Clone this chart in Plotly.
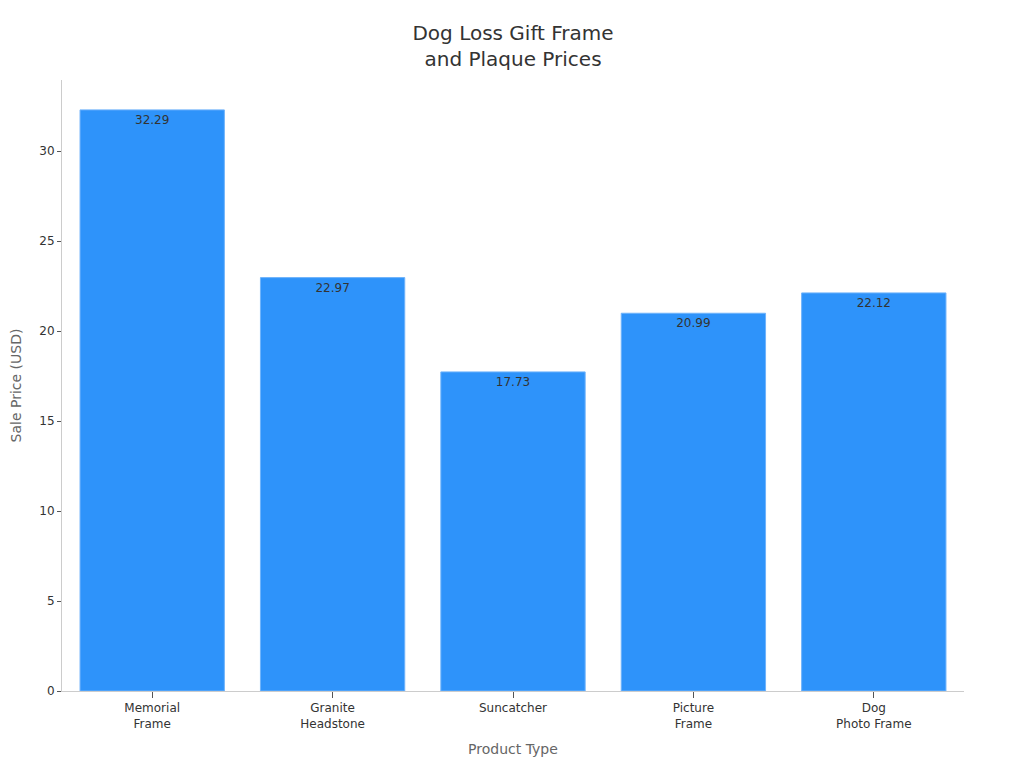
import plotly.graph_objects as go

# Dữ liệu
categories = ["Memorial<br>Frame", "Granite<br>Headstone", "Suncatcher", "Picture<br>Frame", "Dog<br>Photo Frame"]
prices = [32.29, 22.97, 17.73, 20.99, 22.12]
labels = ["32.29", "22.97", "17.73", "20.99", "22.12"]

fig = go.Figure()
fig.add_trace(go.Bar(
    x=categories, y=prices,
    text=labels, textposition="inside", insidetextanchor="end",
    textfont=dict(size=12, color="#333333"),
    marker=dict(color="#2E93FA", line=dict(color="#6FB3FB", width=1)),
    width=0.8,
    showlegend=False
))

fig.update_layout(
    title=dict(text="Dog Loss Gift Frame<br>and Plaque Prices", x=0.4932, xanchor="center", y=0.958,
               font=dict(size=20, color="#333333")),
    font=dict(family="DejaVu Sans", color="#333333", size=12),
    width=1024, height=768,
    margin=dict(l=54, r=68, t=72, b=85),
    plot_bgcolor="white", paper_bgcolor="white",
    xaxis=dict(title=dict(text="Product Type", font=dict(size=14, color="#666666"), standoff=14),
               showline=True, linecolor="#cccccc", ticks="outside", tickcolor="#555555", ticklen=6,
               tickfont=dict(size=12), automargin=False),
    yaxis=dict(title=dict(text="Sale Price (USD)", font=dict(size=14, color="#666666"), standoff=17),
               showline=True, linecolor="#cccccc", ticks="outside", tickcolor="#555555", ticklen=4,
               showgrid=False, zeroline=False, range=[0, 33.95], dtick=5, automargin=False),
)

fig.write_html("out.html")
